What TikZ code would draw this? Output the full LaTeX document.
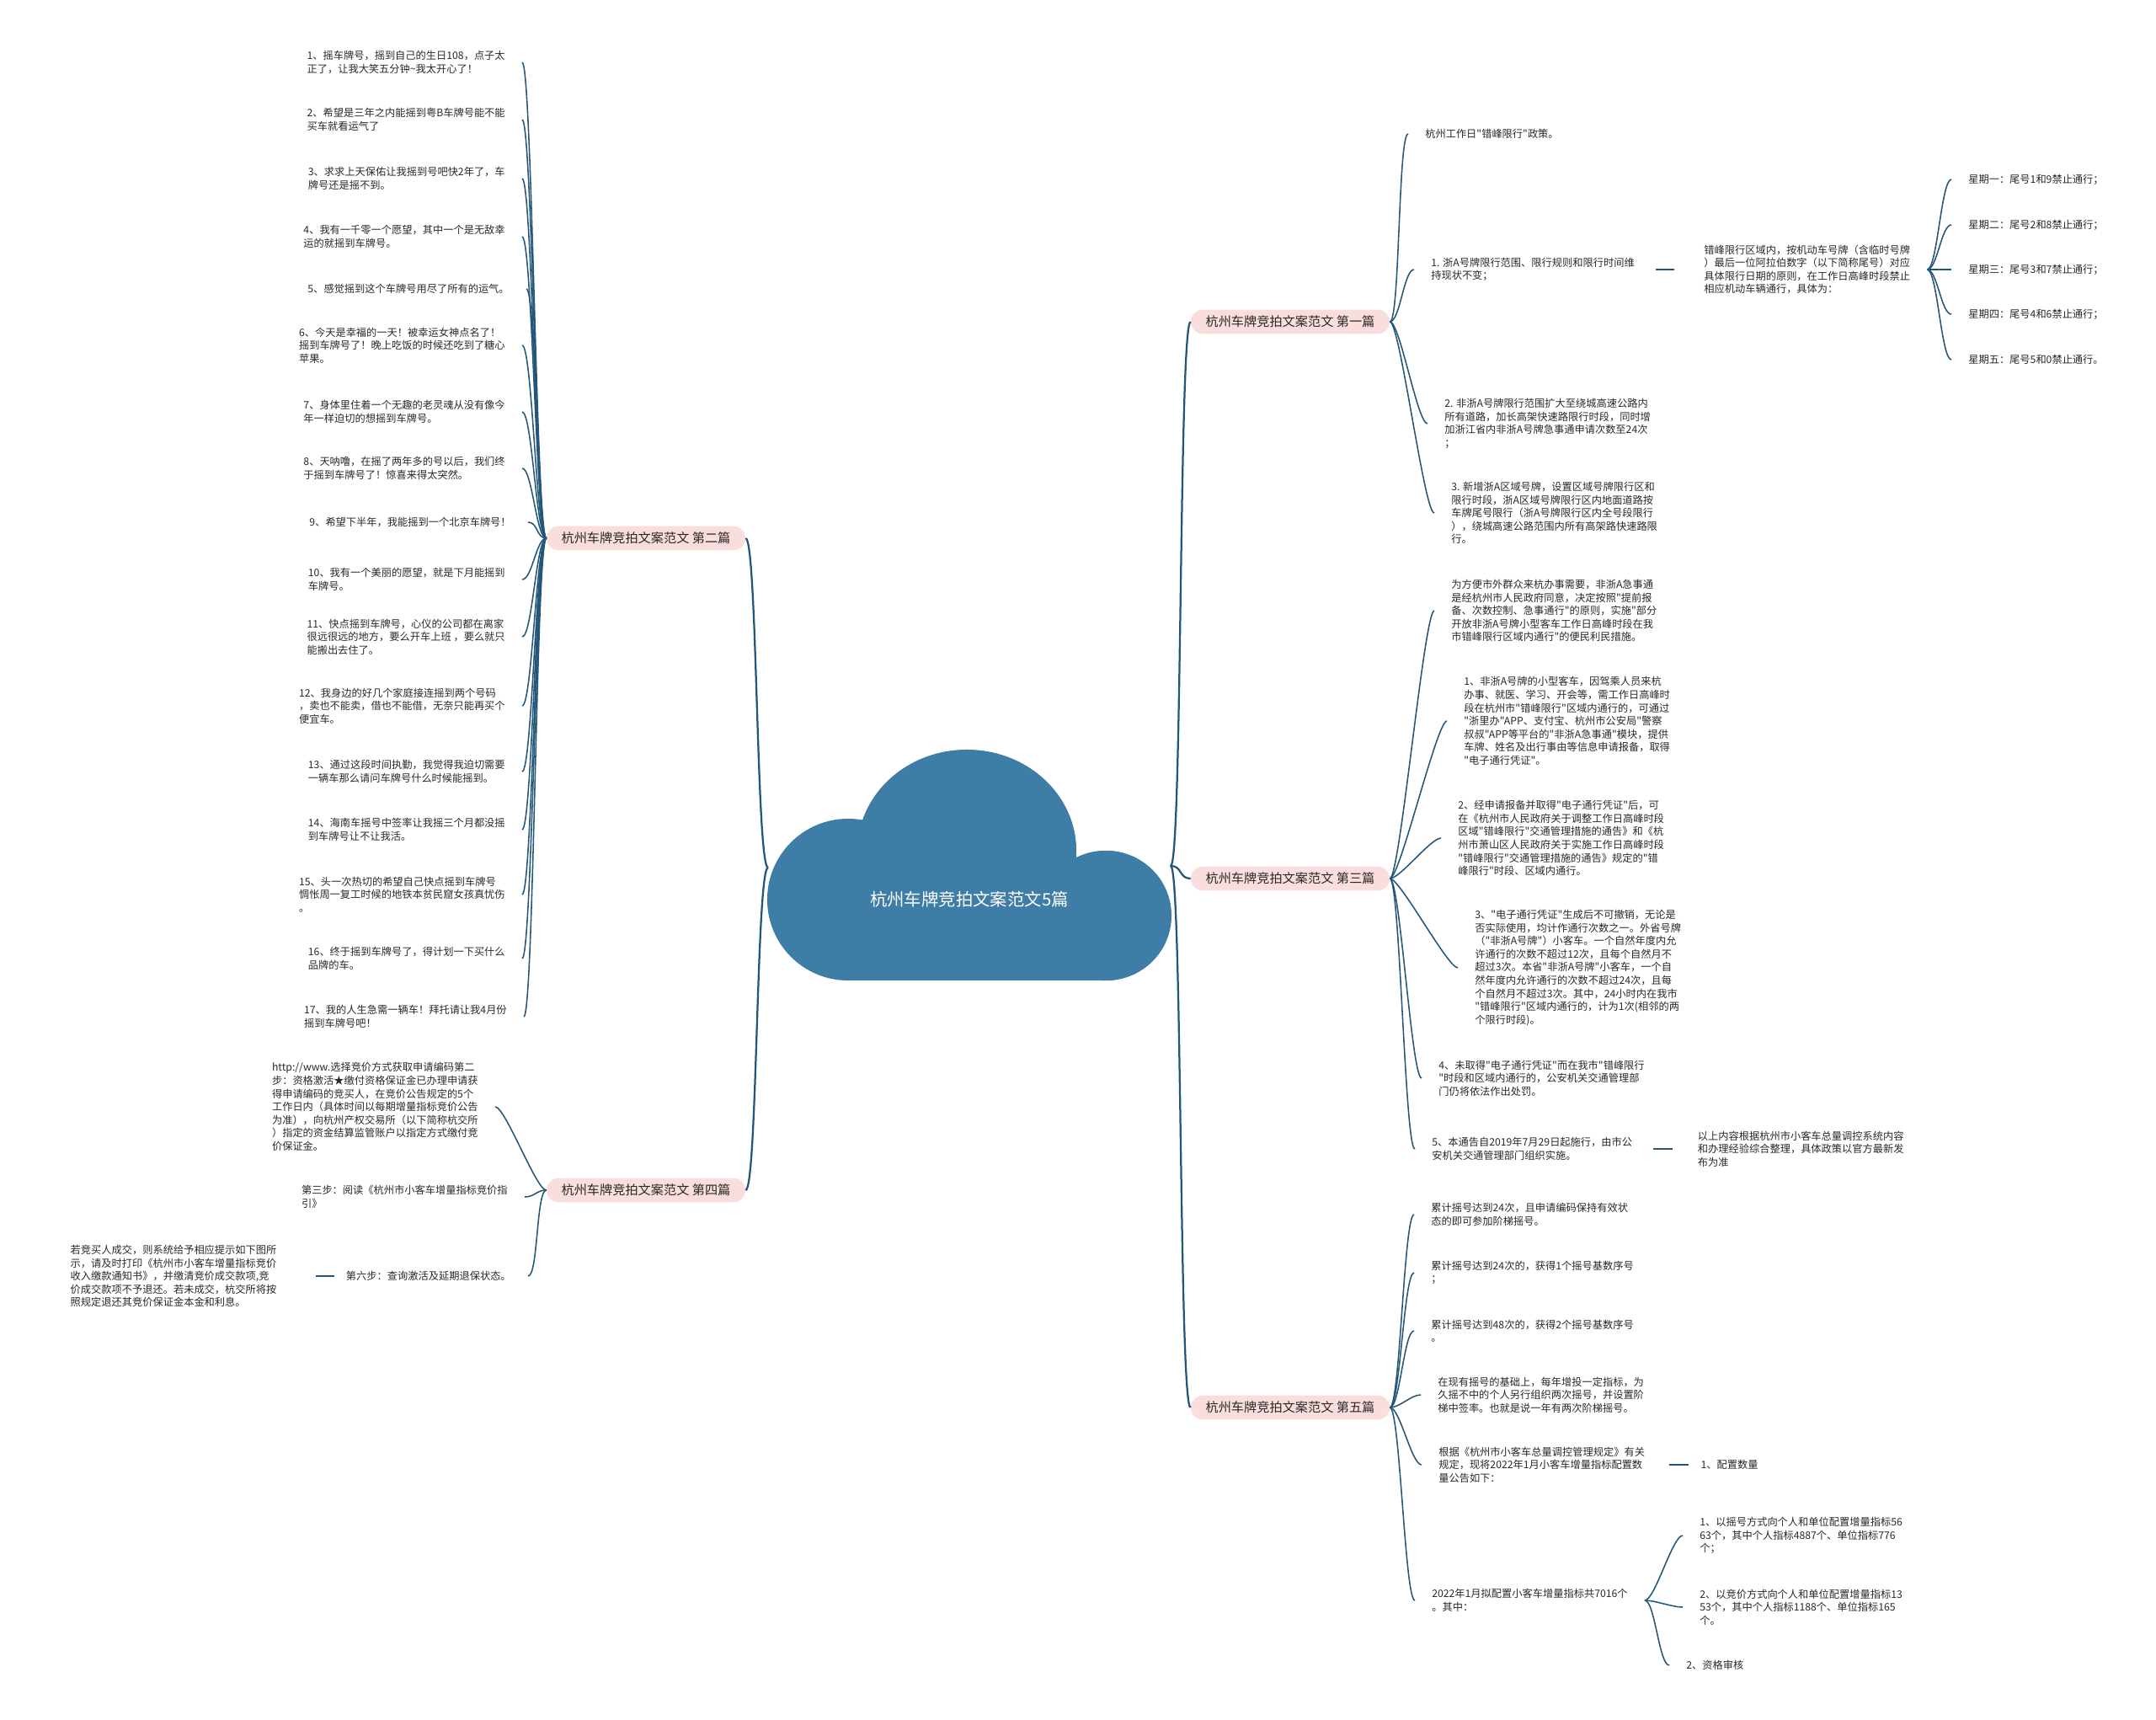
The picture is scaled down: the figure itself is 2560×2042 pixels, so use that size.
\documentclass[tikz,border=0pt]{standalone}
\usepackage{fontspec}
\setmainfont{Noto Sans CJK SC}[Ligatures=TeXOff]
\usepackage{xcolor}
\usetikzlibrary{positioning}
\definecolor{mapLine}{RGB}{36,86,120}
\definecolor{cloudBlue}{RGB}{61,125,166}
\definecolor{pillPink}{RGB}{250,222,222}
\definecolor{darkText}{RGB}{40,40,40}
\tikzset{
    rootlabel/.style={
        text=white,
        font=\fontsize{14.5}{17}\selectfont
    },
    topicbox/.style={
        rectangle,
        fill=pillPink,
        rounded corners=0.36cm,
        minimum width=5.9cm,
        minimum height=0.72cm,
        text=darkText,
        font=\fontsize{10.8}{13}\selectfont
    },
    leafleft/.style={
        anchor=east,
        align=left,
        inner xsep=0.5cm,
        inner ysep=2pt,
        text=darkText,
        font=\fontsize{8.7}{11.1}\selectfont
    },
    leafright/.style={
        anchor=west,
        align=left,
        inner xsep=0.5cm,
        inner ysep=2pt,
        text=darkText,
        font=\fontsize{8.7}{11.1}\selectfont
    },
    mainleft/.style={draw=mapLine, line width=1.6pt,
        to path={.. controls +(-0.35cm,0) and +(0.35cm,0) .. (\tikztotarget)}},
    mainright/.style={draw=mapLine, line width=1.6pt,
        to path={.. controls +(0.35cm,0) and +(-0.35cm,0) .. (\tikztotarget)}},
    linkleft/.style={draw=mapLine, line width=1.1pt,
        to path={.. controls +(-0.3cm,0) and +(0.3cm,0) .. (\tikztotarget)}},
    linkright/.style={draw=mapLine, line width=1.1pt,
        to path={.. controls +(0.3cm,0) and +(-0.3cm,0) .. (\tikztotarget)}},
    dashlink/.style={draw=mapLine, line width=1.1pt}
}

\begin{document}
\begin{tikzpicture}[x=0.025cm, y=-0.025cm]
    \useasboundingbox (0,0) rectangle (2560,2042);

    % cloud
    \fill[cloudBlue] (1007,1068) ellipse [x radius=2.4cm, y radius=2.4cm];
    \fill[cloudBlue] (1148,1010) ellipse [x radius=3.25cm, y radius=3cm];
    \fill[cloudBlue] (1313,1087) ellipse [x radius=1.95cm, y radius=1.93cm];
    \fill[cloudBlue] (1007,1030) rectangle (1313,1164);
    \node[rootlabel] (root) at (1151,1068) {杭州车牌竞拍文案范文5篇};
    \coordinate (rootL) at (912,1030);
    \coordinate (rootR) at (1390,1028);

    % topics
    \node[topicbox] (p1) at (1532,382) {杭州车牌竞拍文案范文 第一篇};
    \node[topicbox] (p2) at (767,639) {杭州车牌竞拍文案范文 第二篇};
    \node[topicbox] (p3) at (1532,1043) {杭州车牌竞拍文案范文 第三篇};
    \node[topicbox] (p4) at (767,1413) {杭州车牌竞拍文案范文 第四篇};
    \node[topicbox] (p5) at (1532,1671) {杭州车牌竞拍文案范文 第五篇};

    \draw[mainleft] (rootL) to (p2.east);
    \draw[mainleft] (rootL) to (p4.east);
    \draw[mainright] (rootR) to (p1.west);
    \draw[mainright] (rootR) to (p3.west);
    \draw[mainright] (rootR) to (p5.west);

    % 第二篇
    \node[leafleft] (a1) at (620,74) {1、摇车牌号，摇到自己的生日108，点子太\\正了，让我大笑五分钟\textasciitilde 我太开心了！};
    \node[leafleft] (a2) at (620,142) {2、希望是三年之内能摇到粤B车牌号能不能\\买车就看运气了};
    \node[leafleft] (a3) at (620,212) {3、求求上天保佑让我摇到号吧快2年了，车\\牌号还是摇不到。};
    \node[leafleft] (a4) at (620,281) {4、我有一千零一个愿望，其中一个是无敌幸\\运的就摇到车牌号。};
    \node[leafleft] (a5) at (625,343) {5、感觉摇到这个车牌号用尽了所有的运气。};
    \node[leafleft] (a6) at (620,410) {6、今天是幸福的一天！被幸运女神点名了！\\摇到车牌号了！晚上吃饭的时候还吃到了糖心\\苹果。};
    \node[leafleft] (a7) at (620,489) {7、身体里住着一个无趣的老灵魂从没有像今\\年一样迫切的想摇到车牌号。};
    \node[leafleft] (a8) at (620,556) {8、天呐噜，在摇了两年多的号以后，我们终\\于摇到车牌号了！惊喜来得太突然。};
    \node[leafleft] (a9) at (627,620) {9、希望下半年，我能摇到一个北京车牌号！};
    \node[leafleft] (a10) at (620,688) {10、我有一个美丽的愿望，就是下月能摇到\\车牌号。};
    \node[leafleft] (a11) at (620,756) {11、快点摇到车牌号，心仪的公司都在离家\\很远很远的地方，要么开车上班 ，要么就只\\能搬出去住了。};
    \node[leafleft] (a12) at (620,838) {12、我身边的好几个家庭接连摇到两个号码\\，卖也不能卖，借也不能借，无奈只能再买个\\便宜车。};
    \node[leafleft] (a13) at (620,916) {13、通过这段时间执勤，我觉得我迫切需要\\一辆车那么请问车牌号什么时候能摇到。};
    \node[leafleft] (a14) at (620,985) {14、海南车摇号中签率让我摇三个月都没摇\\到车牌号让不让我活。};
    \node[leafleft] (a15) at (620,1062) {15、头一次热切的希望自己快点摇到车牌号\\惆怅周一复工时候的地铁本贫民窟女孩真忧伤\\。};
    \node[leafleft] (a16) at (620,1138) {16、终于摇到车牌号了，得计划一下买什么\\品牌的车。};
    \node[leafleft] (a17) at (622,1207) {17、我的人生急需一辆车！拜托请让我4月份\\摇到车牌号吧！};
    \draw[linkleft] (p2.west) to (a1.east);
    \draw[linkleft] (p2.west) to (a2.east);
    \draw[linkleft] (p2.west) to (a3.east);
    \draw[linkleft] (p2.west) to (a4.east);
    \draw[linkleft] (p2.west) to (a5.east);
    \draw[linkleft] (p2.west) to (a6.east);
    \draw[linkleft] (p2.west) to (a7.east);
    \draw[linkleft] (p2.west) to (a8.east);
    \draw[linkleft] (p2.west) to (a9.east);
    \draw[linkleft] (p2.west) to (a10.east);
    \draw[linkleft] (p2.west) to (a11.east);
    \draw[linkleft] (p2.west) to (a12.east);
    \draw[linkleft] (p2.west) to (a13.east);
    \draw[linkleft] (p2.west) to (a14.east);
    \draw[linkleft] (p2.west) to (a15.east);
    \draw[linkleft] (p2.west) to (a16.east);
    \draw[linkleft] (p2.west) to (a17.east);

    % 第四篇
    \node[leafleft] (b1) at (588,1314) {http://www.选择竞价方式获取申请编码第二\\步：资格激活★缴付资格保证金已办理申请获\\得申请编码的竞买人，在竞价公告规定的5个\\工作日内（具体时间以每期增量指标竞价公告\\为准），向杭州产权交易所（以下简称杭交所\\）指定的资金结算监管账户以指定方式缴付竞\\价保证金。};
    \node[leafleft] (b2) at (623,1421) {第三步：阅读《杭州市小客车增量指标竞价指\\引》};
    \node[leafleft] (b3) at (627,1515) {第六步：查询激活及延期退保状态。};
    \node[leafleft, left=1.05cm of b3] (b31) {若竞买人成交，则系统给予相应提示如下图所\\示，请及时打印《杭州市小客车增量指标竞价\\收入缴款通知书》，并缴清竞价成交款项,竞\\价成交款项不予退还。若未成交，杭交所将按\\照规定退还其竞价保证金本金和利息。};
    \draw[linkleft] (p4.west) to (b1.east);
    \draw[linkleft] (p4.west) to (b2.east);
    \draw[linkleft] (p4.west) to (b3.east);
    \draw[dashlink, shorten <=-0.15cm, shorten >=0.65cm] (b3.west) -- (b31.east);

    % 第一篇
    \node[leafright] (c1) at (1672,159) {杭州工作日"错峰限行"政策。};
    \node[leafright] (c2) at (1679,320) {1. 浙A号牌限行范围、限行规则和限行时间维\\持现状不变；};
    \node[leafright, right=1.05cm of c2] (c21) {错峰限行区域内，按机动车号牌（含临时号牌\\）最后一位阿拉伯数字（以下简称尾号）对应\\具体限行日期的原则，在工作日高峰时段禁止\\相应机动车辆通行，具体为：};
    \node[leafright] (w1) at (2317,213) {星期一：尾号1和9禁止通行；};
    \node[leafright] (w2) at (2317,267) {星期二：尾号2和8禁止通行；};
    \node[leafright] (w3) at (2317,320) {星期三：尾号3和7禁止通行；};
    \node[leafright] (w4) at (2317,373) {星期四：尾号4和6禁止通行；};
    \node[leafright] (w5) at (2317,427) {星期五：尾号5和0禁止通行。};
    \node[leafright] (c3) at (1695,503) {2. 非浙A号牌限行范围扩大至绕城高速公路内\\所有道路，加长高架快速路限行时段，同时增\\加浙江省内非浙A号牌急事通申请次数至24次\\；};
    \node[leafright] (c4) at (1703,609) {3. 新增浙A区域号牌，设置区域号牌限行区和\\限行时段，浙A区域号牌限行区内地面道路按\\车牌尾号限行（浙A号牌限行区内全号段限行\\），绕城高速公路范围内所有高架路快速路限\\行。};
    \draw[linkright] (p1.east) to (c1.west);
    \draw[linkright] (p1.east) to (c2.west);
    \draw[linkright] (p1.east) to (c3.west);
    \draw[linkright] (p1.east) to (c4.west);
    \draw[dashlink, shorten <=0.12cm, shorten >=0.38cm] (c2.east) -- (c21.west);
    \draw[linkright] (c21.east) to (w1.west);
    \draw[linkright] (c21.east) to (w2.west);
    \draw[linkright] (c21.east) to (w3.west);
    \draw[linkright] (c21.east) to (w4.west);
    \draw[linkright] (c21.east) to (w5.west);

    % 第三篇
    \node[leafright] (d1) at (1703,725) {为方便市外群众来杭办事需要，非浙A急事通\\是经杭州市人民政府同意，决定按照"提前报\\备、次数控制、急事通行"的原则，实施"部分\\开放非浙A号牌小型客车工作日高峰时段在我\\市错峰限行区域内通行"的便民利民措施。};
    \node[leafright] (d2) at (1718,856) {1、非浙A号牌的小型客车，因驾乘人员来杭\\办事、就医、学习、开会等，需工作日高峰时\\段在杭州市"错峰限行"区域内通行的，可通过\\"浙里办"APP、支付宝、杭州市公安局"警察\\叔叔"APP等平台的"非浙A急事通"模块，提供\\车牌、姓名及出行事由等信息申请报备，取得\\"电子通行凭证"。};
    \node[leafright] (d3) at (1711,995) {2、经申请报备并取得"电子通行凭证"后，可\\在《杭州市人民政府关于调整工作日高峰时段\\区域"错峰限行"交通管理措施的通告》和《杭\\州市萧山区人民政府关于实施工作日高峰时段\\"错峰限行"交通管理措施的通告》规定的"错\\峰限行"时段、区域内通行。};
    \node[leafright] (d4) at (1731,1149) {3、"电子通行凭证"生成后不可撤销，无论是\\否实际使用，均计作通行次数之一。外省号牌\\（"非浙A号牌"）小客车。一个自然年度内允\\许通行的次数不超过12次，且每个自然月不\\超过3次。本省"非浙A号牌"小客车，一个自\\然年度内允许通行的次数不超过24次，且每\\个自然月不超过3次。其中，24小时内在我市\\"错峰限行"区域内通行的，计为1次(相邻的两\\个限行时段)。};
    \node[leafright] (d5) at (1688,1280) {4、未取得"电子通行凭证"而在我市"错峰限行\\"时段和区域内通行的，公安机关交通管理部\\门仍将依法作出处罚。};
    \node[leafright] (d6) at (1680,1364) {5、本通告自2019年7月29日起施行，由市公\\安机关交通管理部门组织实施。};
    \node[leafright, right=0.93cm of d6] (d61) {以上内容根据杭州市小客车总量调控系统内容\\和办理经验综合整理，具体政策以官方最新发\\布为准};
    \draw[linkright] (p3.east) to (d1.west);
    \draw[linkright] (p3.east) to (d2.west);
    \draw[linkright] (p3.east) to (d3.west);
    \draw[linkright] (p3.east) to (d4.west);
    \draw[linkright] (p3.east) to (d5.west);
    \draw[linkright] (p3.east) to (d6.west);
    \draw[dashlink, shorten <=0.12cm, shorten >=0.23cm] (d6.east) -- (d61.west);

    % 第五篇
    \node[leafright] (e1) at (1679,1442) {累计摇号达到24次，且申请编码保持有效状\\态的即可参加阶梯摇号。};
    \node[leafright] (e2) at (1679,1511) {累计摇号达到24次的，获得1个摇号基数序号\\；};
    \node[leafright] (e3) at (1679,1580) {累计摇号达到48次的，获得2个摇号基数序号\\。};
    \node[leafright] (e4) at (1687,1656) {在现有摇号的基础上，每年增投一定指标，为\\久摇不中的个人另行组织两次摇号，并设置阶\\梯中签率。也就是说一年有两次阶梯摇号。};
    \node[leafright] (e5) at (1688,1739) {根据《杭州市小客车总量调控管理规定》有关\\规定，现将2022年1月小客车增量指标配置数\\量公告如下：};
    \node[leafright, right=0.65cm of e5] (e51) {1、配置数量};
    \node[leafright] (e6) at (1680,1900) {2022年1月拟配置小客车增量指标共7016个\\。其中：};
    \node[leafright] (e61) at (1998,1823) {1、以摇号方式向个人和单位配置增量指标56\\63个，其中个人指标4887个、单位指标776\\个；};
    \node[leafright] (e62) at (1998,1908) {2、以竞价方式向个人和单位配置增量指标13\\53个，其中个人指标1188个、单位指标165\\个。};
    \node[leafright] (e63) at (1982,1977) {2、资格审核};
    \draw[linkright] (p5.east) to (e1.west);
    \draw[linkright] (p5.east) to (e2.west);
    \draw[linkright] (p5.east) to (e3.west);
    \draw[linkright] (p5.east) to (e4.west);
    \draw[linkright] (p5.east) to (e5.west);
    \draw[linkright] (p5.east) to (e6.west);
    \draw[dashlink, shorten <=0.22cm, shorten >=-0.15cm] (e5.east) -- (e51.west);
    \draw[linkright] (e6.east) to (e61.west);
    \draw[linkright] (e6.east) to (e62.west);
    \draw[linkright] (e6.east) to (e63.west);
\end{tikzpicture}
\end{document}
